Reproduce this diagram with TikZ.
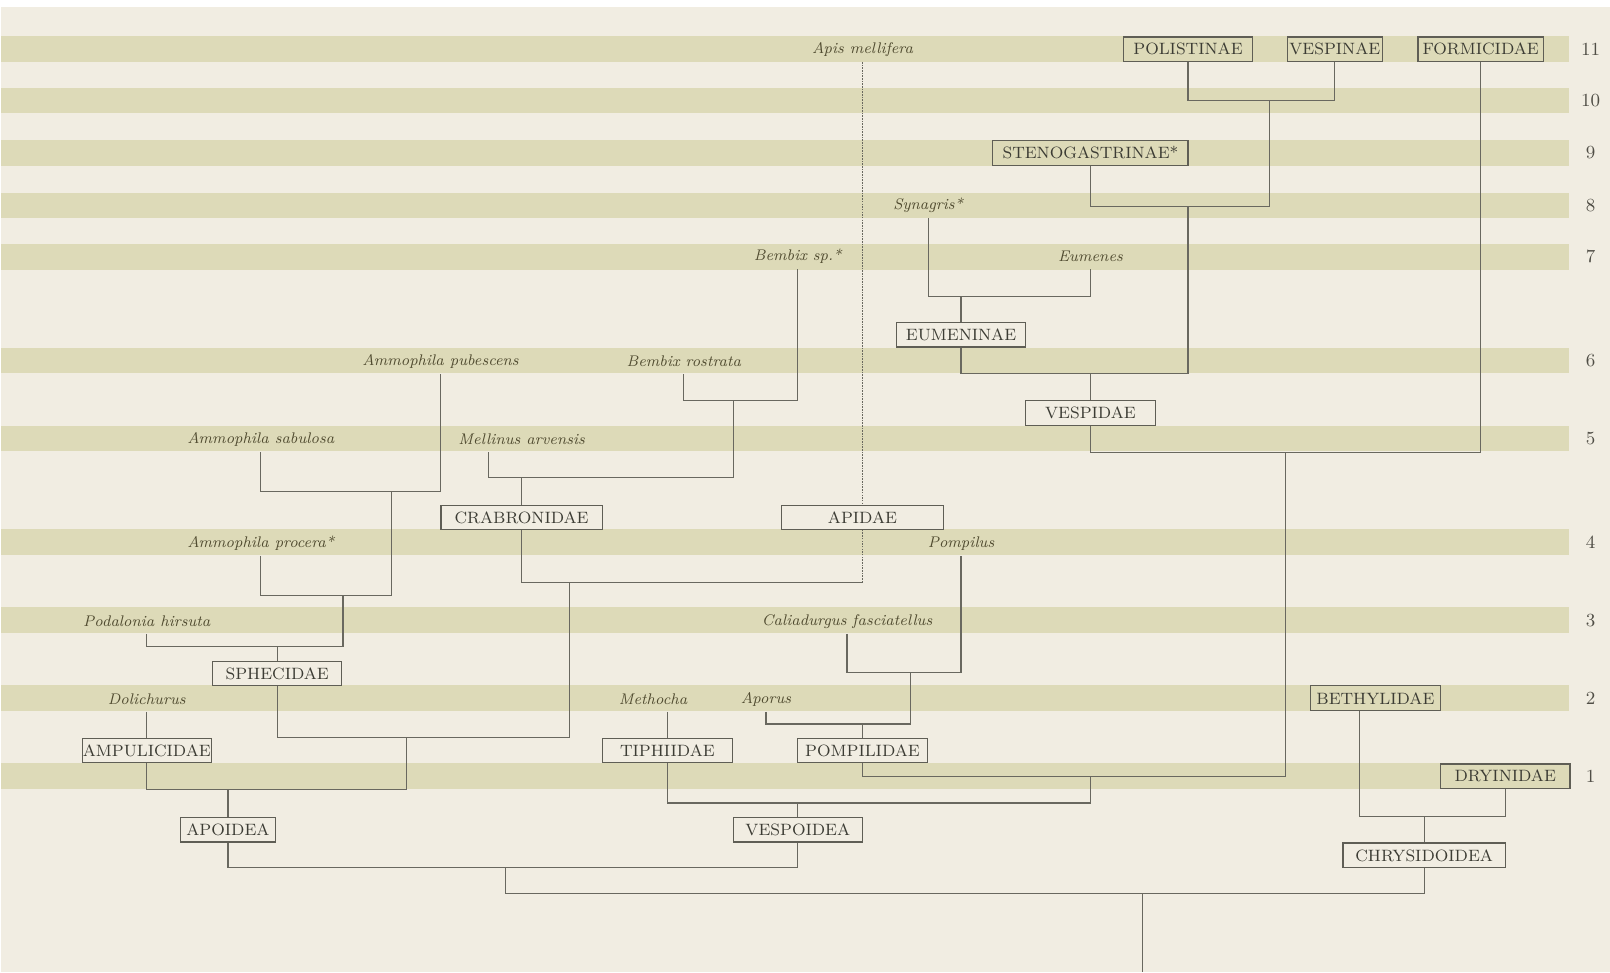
\documentclass[tikz,border=0pt]{standalone}
\usetikzlibrary{calc}
\definecolor{bgc}{RGB}{241,237,226}
\definecolor{bandc}{RGB}{221,218,184}
\definecolor{linec}{RGB}{105,104,95}
\definecolor{boxline}{RGB}{95,94,85}
\definecolor{boxtext}{RGB}{60,60,52}
\definecolor{sptext}{RGB}{80,75,48}
\definecolor{numtext}{RGB}{80,78,70}
\begin{document}
\begin{tikzpicture}[x=0.5pt,y=-0.5pt,
  taxbox/.style={draw=boxline,line width=0.55pt,minimum height=12pt,minimum width=63pt,inner sep=0pt,
    font=\fontsize{8}{9.6}\selectfont,text=boxtext},
  sp/.style={inner sep=0pt,minimum height=12pt,font=\fontsize{7.5}{9}\selectfont\itshape,text=sptext},
  num/.style={inner sep=0pt,font=\fontsize{9}{10}\selectfont,text=numtext},
  link/.style={draw=linec,line width=0.6pt},
  dotlink/.style={draw=linec,line width=0.65pt,dash pattern=on 0.8pt off 0.5pt}]
\useasboundingbox (0,0) rectangle (1568,947);
\fill[white] (0,0) rectangle (1568,947);
\fill[bgc] (1,7) rectangle (1568,947);
\foreach \yy in {48,98,149,200,250,351,427,528,604,680,756}
  \fill[bandc] (1,\yy-12.5) rectangle (1528,\yy+12.5);
% row numbers
\foreach \yy/\t in {48/11,98/10,149/9,200/8,250/7,351/6,427/5,528/4,604/3,680/2,756/1}
  \node[num] (n\t) at (1549,\yy) {\t};
% boxes
\node[taxbox] (POL) at (1157,48) {POLISTINAE};
\node[taxbox,minimum width=46.5pt] (VESPIN) at (1300,48) {VESPINAE};
\node[taxbox,minimum width=61pt] (FORM) at (1442,48) {FORMICIDAE};
\node[taxbox,minimum width=95pt] (STEN) at (1062,149) {STENOGASTRINAE*};
\node[taxbox] (EUMEN) at (936,326) {EUMENINAE};
\node[taxbox] (VESPID) at (1062,402) {VESPIDAE};
\node[taxbox,minimum width=78.5pt] (CRAB) at (508,504) {CRABRONIDAE};
\node[taxbox,minimum width=78.5pt] (APID) at (840,504) {APIDAE};
\node[taxbox] (SPH) at (270,656) {SPHECIDAE};
\node[taxbox] (AMP) at (143,731) {AMPULICIDAE};
\node[taxbox] (TIPH) at (650,731) {TIPHIIDAE};
\node[taxbox] (POMP) at (840,731) {POMPILIDAE};
\node[taxbox,minimum width=63.5pt] (BETH) at (1339.5,680) {BETHYLIDAE};
\node[taxbox] (DRY) at (1466,756) {DRYINIDAE};
\node[taxbox,minimum width=46.5pt] (APOID) at (222,808) {APOIDEA};
\node[taxbox] (VESPOID) at (777,808) {VESPOIDEA};
\node[taxbox,minimum width=79pt] (CHRYS) at (1387,833) {CHRYSIDOIDEA};
% species
\node[sp] (Apis) at (840,48) {Apis mellifera};
\node[sp] (Syn) at (904,200) {Synagris*};
\node[sp] (Bsp) at (777,250) {Bembix sp.*};
\node[sp] (Eum) at (1062,250) {Eumenes};
\node[sp] (Apub) at (429,352) {Ammophila pubescens};
\node[sp] (Brost) at (666,352) {Bembix rostrata};
\node[sp] (Asab) at (254,428) {Ammophila sabulosa};
\node[sp] (Mel) at (508,428) {Mellinus arvensis};
\node[sp] (Aproc) at (254,529) {Ammophila procera*};
\node[sp] (Pompil) at (936,529) {Pompilus};
\node[sp] (Pod) at (143,605) {Podalonia hirsuta};
\node[sp] (Cal) at (825,605) {Caliadurgus fasciatellus};
\node[sp] (Dol) at (143,681) {Dolichurus};
\node[sp] (Meth) at (636,681) {Methocha};
\node[sp] (Apo) at (746,681) {Aporus};
% junctions
\coordinate (jpv) at (1236,98);
\coordinate (jsten) at (1157,201);
\coordinate (jeum) at (936,289);
\coordinate (jvesp) at (1062,364);
\coordinate (j5) at (1252,441);
\coordinate (jpomp) at (1062,756);
\coordinate (jvespoid) at (777,782);
\coordinate (jcal) at (887,655);
\coordinate (japo) at (840,705);
\coordinate (jbem) at (714,390);
\coordinate (jmel) at (508,465);
\coordinate (jcrab) at (555,567);
\coordinate (japi) at (840,567);
\coordinate (jamm1) at (381,479);
\coordinate (jamm2) at (334,580);
\coordinate (jpod) at (270,630);
\coordinate (jsph) at (396,718);
\coordinate (japoid) at (222,769);
\coordinate (jacu) at (492,845);
\coordinate (jroot) at (1113,870);
\coordinate (rootend) at (1113,947);
\coordinate (jchr) at (1387,795);
% Vespidae
\draw[link] (POL.south) |- (jpv) -| (VESPIN.south);
\draw[link] (STEN.south) |- (jsten) -| (jpv);
\draw[link] (Syn.south) |- (jeum) -| (Eum.south);
\draw[link] (jeum) -- (EUMEN.north);
\draw[link] (EUMEN.south) |- (jvesp) -| (jsten);
\draw[link] (jvesp) -- (VESPID.north);
\draw[link] (VESPID.south) |- (j5) -| (FORM.south);
\draw[link] (POMP.south) |- (jpomp) -| (j5);
\draw[link] (TIPH.south) |- (jvespoid) -| (jpomp);
\draw[link] (jvespoid) -- (VESPOID.north);
% Pompilidae / Tiphiidae
\draw[link] (Cal.south) |- (jcal) -| (Pompil.south);
\draw[link] (Apo.south) |- (japo) -| (jcal);
\draw[link] (japo) -- (POMP.north);
\draw[link] (Meth.south -| TIPH.north) -- (TIPH.north);
% Crabronidae
\draw[link] (Brost.south) |- (jbem) -| (Bsp.south);
\draw[link] ([xshift=-16pt]Mel.south) |- (jmel) -| (jbem);
\draw[link] (jmel) -- (CRAB.north);
\draw[link] (CRAB.south) |- (jcrab) -- (japi);
\draw[dotlink] (japi) -- (APID.south);
\draw[dotlink] (Apis.south) -- (APID.north);
% Sphecidae
\draw[link] (Asab.south) |- (jamm1) -| (Apub.south);
\draw[link] (Aproc.south) |- (jamm2) -| (jamm1);
\draw[link] (Pod.south) |- (jpod) -| (jamm2);
\draw[link] (jpod) -- (SPH.north);
\draw[link] (SPH.south) |- (jsph) -| (jcrab);
\draw[link] (Dol.south) -- (AMP.north);
\draw[link] (AMP.south) |- (japoid) -| (jsph);
\draw[link] (japoid) -- (APOID.north);
% base
\draw[link] (APOID.south) |- (jacu) -| (VESPOID.south);
\draw[link] (jacu) |- (jroot) -| (CHRYS.south);
\draw[link] (jroot) -- (rootend);
% Chrysidoidea
\draw[link] ([xshift=-7.75pt]BETH.south) |- (jchr) -| (DRY.south);
\draw[link] (jchr) -- (CHRYS.north);
\end{tikzpicture}
\end{document}
